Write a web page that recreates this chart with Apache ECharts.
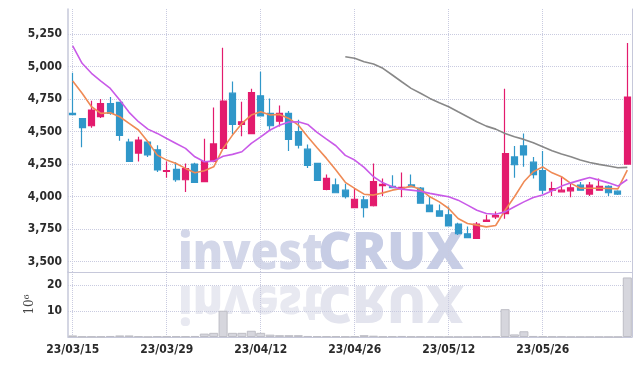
<!DOCTYPE html>
<html>
<head>
<meta charset="utf-8">
<script src="https://cdn.jsdelivr.net/npm/echarts/dist/echarts.min.js"></script>
<style>
  html, body { margin: 0; padding: 0; background: #ffffff; }
  #chart { width: 642px; height: 366px; }
</style>
</head>
<body>
<div id="chart"></div>
<script>
const dates = ['23/03/15','23/03/16','23/03/17','23/03/20','23/03/21','23/03/22','23/03/23','23/03/24','23/03/27','23/03/28',
'23/03/29','23/03/30','23/03/31','23/04/03','23/04/04','23/04/05','23/04/06','23/04/07','23/04/10','23/04/11',
'23/04/12','23/04/13','23/04/14','23/04/17','23/04/18','23/04/19','23/04/20','23/04/21','23/04/24','23/04/25',
'23/04/26','23/04/27','23/04/28','23/05/02','23/05/03','23/05/04','23/05/08','23/05/09','23/05/10','23/05/11',
'23/05/12','23/05/15','23/05/16','23/05/17','23/05/18','23/05/19','23/05/22','23/05/23','23/05/24','23/05/25',
'23/05/26','23/05/30','23/05/31','23/06/01','23/06/02','23/06/05','23/06/07','23/06/08','23/06/09','23/06/12'];

const opens  = [4640,4600,4545,4615,4715,4725,4420,4335,4420,4360, 4195,4210,4130,4250,4115,4270,4370,4795,4555,4485,
                4775,4640,4580,4640,4500,4365,4255,4055,4090,4050, 3915,3975,3930,4085,4080,4065,4090,4065,3935,3890,
                3860,3790,3715,3680,3810,3845,3870,4305,4390,4265, 4200,4050,4037,4045,4088,4020,4050,4080,4042,4250];
const closes = [4630,4530,4665,4715,4640,4470,4270,4435,4320,4205, 4200,4130,4215,4110,4270,4405,4735,4555,4575,4800,
                4620,4545,4640,4440,4395,4240,4125,4140,4030,4000, 3980,3915,4115,4095,4070,4072,4075,3950,3885,3850,
                3775,3715,3685,3790,3820,3855,4330,4245,4320,4170, 4050,4062,4050,4068,4050,4088,4080,4030,4020,4765];
const lows   = [4628,4380,4530,4605,4630,4430,4268,4270,4305,4190, 4145,4115,4035,4105,4110,4265,4360,4480,4465,4480,
                4620,4505,4540,4350,4370,4220,4125,4050,4030,3985, 3915,3840,3925,4005,4065,3995,4070,3950,3885,3850,
                3770,3705,3680,3675,3810,3828,3830,4145,4230,4140, 4020,4005,4035,3995,4045,4005,4045,4005,4012,4245];
const highs  = [4952,4605,4737,4750,4765,4730,4445,4460,4425,4395, 4270,4265,4255,4260,4445,4685,5145,4885,4730,4830,
                4960,4755,4700,4658,4590,4400,4260,4170,4140,4100, 4065,4005,4255,4140,4165,4185,4170,4075,4005,3940,
                3925,3800,3770,3805,3860,3885,4830,4390,4485,4305, 4350,4115,4155,4100,4112,4112,4140,4088,4050,5180];

const maShort = [4888,4794,4691,4640,4645,4614,4563,4512,4422,4319, 4281,4255,4217,4183,4199,4229,4371,4473,4563,4627,
                 4652,4627,4632,4601,4550,4460,4376,4294,4204,4110, 4063,4019,4012,4029,4050,4063,4081,4055,3999,3960,
                 3909,3832,3794,3781,3768,3778,3896,3999,4114,4191, 4229,4183,4153,4102,4065,4065,4065,4063,4060,4204];
const maMid   = [5158,5025,4948,4888,4832,4742,4648,4576,4519,4486, 4447,4409,4371,4306,4268,4273,4310,4325,4345,4409,
                 4460,4512,4548,4574,4576,4555,4494,4442,4391,4317, 4281,4225,4153,4106,4076,4058,4050,4042,4025,4012,
                 3999,3973,3935,3896,3870,3865,3883,3922,3960,3994, 4012,4045,4081,4106,4127,4147,4127,4106,4081,4132];
const maLong  = [null,null,null,null,null,null,null,null,null,null, null,null,null,null,null,null,null,null,null,null,
                 null,null,null,null,null,null,null,null,null,5075, 5063,5037,5019,4986,4935,4883,4832,4794,4755,4722,
                 4691,4652,4614,4576,4542,4519,4486,4460,4440,4414, 4383,4352,4327,4306,4281,4263,4248,4235,4222,4225];

const volumes = [0.6,0.2,0.2,0.2,0.4,0.6,0.6,0.3,0.1,0.3, 0.3,0.3,0.3,0.4,1.3,1.6,10.1,1.6,1.6,2.4,
                 1.6,0.9,0.7,0.7,0.7,0.4,0.3,0.3,0.3,0.2, 0.3,0.7,0.5,0.2,0.3,0.4,0.2,0.2,0.2,0.1,
                 0.1,0.1,0.1,0.2,0.2,0.3,10.7,1.0,2.2,0.4, 0.3,0.2,0.2,0.1,0.1,0.1,0.1,0.1,0.1,22.9];

const priceTicks = [3500,3750,4000,4250,4500,4750,5000,5250];
const volumeTicks = [10,20];

const candleData = dates.map((d, i) => [opens[i], closes[i], lows[i], highs[i]]);

const UP = '#e31b6d', DOWN = '#3097c9';
const gridLineColor = '#c9cbe0';
const axisLineColor = '#c6c8da';
const labelFont = { fontFamily: "'DejaVu Sans Condensed', 'Roboto', sans-serif", fontWeight: 'bold', fontSize: 12, color: '#2a2a2a' };
const wmFont = "800 52px 'Open Sans', 'Lato', sans-serif";

const chart = echarts.init(document.getElementById('chart'), null, { renderer: 'canvas' });

function wmChildren(c1, c2) {
  return [
    { type: 'text', x: 0, y: 0, scaleX: 0.87, style: { text: 'invest', font: wmFont, fill: c1 } },
    { type: 'text', x: 140, y: 0, style: { text: 'CRUX', font: wmFont, fill: c2 } }
  ];
}

const option = {
  animation: false,
  backgroundColor: '#ffffff',
  grid: [
    { left: 68, right: 10, top: 9, height: 263 },
    { left: 68, right: 10, top: 272, height: 65 }
  ],
  xAxis: [
    {
      type: 'category', gridIndex: 0, data: dates, boundaryGap: true,
      axisLine: { show: true, lineStyle: { color: axisLineColor, width: 1 } },
      axisTick: { show: false, interval: 9, alignWithLabel: true },
      axisLabel: { show: false, interval: 9 },
      splitLine: { show: true, interval: 9, alignWithLabel: true, lineStyle: { color: gridLineColor, type: 'dotted', width: 1 } }
    },
    {
      type: 'category', gridIndex: 1, data: dates, boundaryGap: true,
      axisLine: { show: true, lineStyle: { color: axisLineColor, width: 1 } },
      axisTick: { show: false, interval: 9, alignWithLabel: true },
      axisLabel: Object.assign({ show: true, interval: 9, margin: 7 }, labelFont),
      splitLine: { show: true, interval: 9, alignWithLabel: true, lineStyle: { color: gridLineColor, type: 'dotted', width: 1 } }
    }
  ],
  yAxis: [
    {
      type: 'value', gridIndex: 0, min: 3421, max: 5442, position: 'left',
      axisLine: { show: true, lineStyle: { color: axisLineColor, width: 1.5 } },
      axisTick: { show: false, customValues: priceTicks },
      axisLabel: Object.assign({
        show: true, margin: 6, customValues: priceTicks,
        formatter: v => v.toLocaleString('en-US')
      }, labelFont),
      splitLine: { show: true, lineStyle: { color: gridLineColor, type: 'dotted', width: 1 } }
    },
    {
      type: 'value', gridIndex: 1, min: 0, max: 25, position: 'left',
      name: '10\u2076', nameLocation: 'middle', nameRotate: 90, nameGap: 28,
      nameTextStyle: { fontFamily: 'DejaVu Serif', fontSize: 12, color: '#444' },
      axisLine: { show: true, lineStyle: { color: axisLineColor, width: 1.5 } },
      axisTick: { show: false, customValues: volumeTicks },
      axisLabel: Object.assign({ show: true, margin: 6, customValues: volumeTicks }, labelFont),
      splitLine: { show: true, lineStyle: { color: gridLineColor, type: 'dotted', width: 1 } }
    },
    {
      type: 'value', gridIndex: 0, min: 3421, max: 5442, position: 'right',
      axisLine: { show: true, lineStyle: { color: axisLineColor, width: 1 } },
      axisTick: { show: false }, axisLabel: { show: false }, splitLine: { show: false }
    },
    {
      type: 'value', gridIndex: 1, min: 0, max: 25, position: 'right',
      axisLine: { show: true, lineStyle: { color: axisLineColor, width: 1 } },
      axisTick: { show: false }, axisLabel: { show: false }, splitLine: { show: false }
    }
  ],
  graphic: [
    { type: 'group', x: 178, y: 228, z: 1, silent: true, children: wmChildren('#d3d7e9', '#c7cde5') },
    { type: 'group', x: 178, y: 327, scaleY: -1, z: 1, silent: true, children: wmChildren('#e8e9f1', '#e3e4ee') }
  ],
  series: [
    {
      type: 'candlestick', xAxisIndex: 0, yAxisIndex: 0, data: candleData, barWidth: '68%', z: 3,
      itemStyle: { color: UP, color0: DOWN, borderColor: UP, borderColor0: DOWN, borderWidth: 1.2 }
    },
    {
      type: 'line', xAxisIndex: 0, yAxisIndex: 0, data: maShort, symbol: 'none', z: 4,
      lineStyle: { color: '#ef8a55', width: 1.6 }
    },
    {
      type: 'line', xAxisIndex: 0, yAxisIndex: 0, data: maMid, symbol: 'none', z: 4,
      lineStyle: { color: '#c95ae8', width: 1.6 }
    },
    {
      type: 'line', xAxisIndex: 0, yAxisIndex: 0, data: maLong, symbol: 'none', z: 4, connectNulls: false,
      lineStyle: { color: '#888888', width: 1.6 }
    },
    {
      type: 'bar', xAxisIndex: 1, yAxisIndex: 1, data: volumes, barWidth: '96%', z: 3,
      itemStyle: { color: '#d6d6dd', borderColor: '#bdbdc5', borderWidth: 1 }
    }
  ]
};

chart.setOption(option);
</script>
</body>
</html>
